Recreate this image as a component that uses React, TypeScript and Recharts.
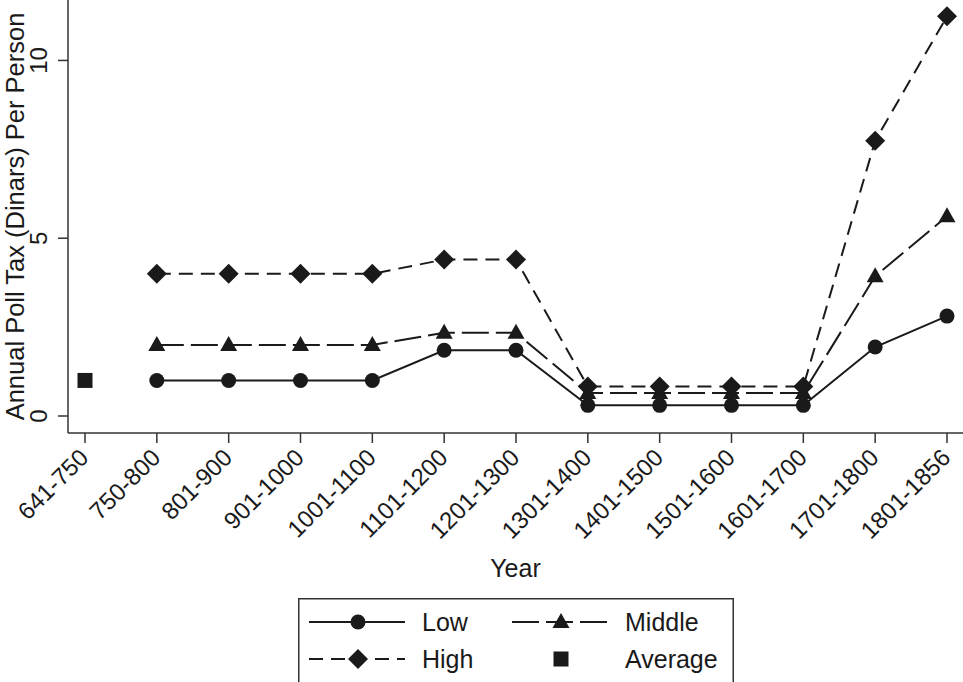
import { LineChart, Line, XAxis, YAxis, Legend, Label } from 'recharts'

const periods = [
  '641-750', '750-800', '801-900', '901-1000', '1001-1100', '1101-1200', '1201-1300',
  '1301-1400', '1401-1500', '1501-1600', '1601-1700', '1701-1800', '1801-1856',
]
const low = [null, 1, 1, 1, 1, 1.85, 1.85, 0.3, 0.3, 0.3, 0.3, 1.94, 2.81]
const middle = [null, 2, 2, 2, 2, 2.34, 2.34, 0.65, 0.65, 0.65, 0.65, 3.93, 5.62]
const high = [null, 4, 4, 4, 4, 4.4, 4.4, 0.83, 0.83, 0.83, 0.83, 7.74, 11.24]
const average = [1, null, null, null, null, null, null, null, null, null, null, null, null]
const yTicks = [0, 5, 10]

const data = periods.map((p, i) => ({
  period: p,
  low: low[i],
  middle: middle[i],
  high: high[i],
  average: average[i],
}))

const INK = '#1a1a1a'
const FONT = '"Liberation Sans", Arial, Helvetica, sans-serif'

type Shape = 'circle' | 'triangle' | 'diamond' | 'square'

function Marker({ shape, cx, cy }: { shape: Shape; cx: number; cy: number }) {
  if (shape === 'circle') return <circle cx={cx} cy={cy} r={7.5} fill={INK} />
  if (shape === 'triangle')
    return <polygon points={`${cx},${cy - 9} ${cx + 8.5},${cy + 6} ${cx - 8.5},${cy + 6}`} fill={INK} />
  if (shape === 'diamond')
    return <polygon points={`${cx},${cy - 10} ${cx + 10},${cy} ${cx},${cy + 10} ${cx - 10},${cy}`} fill={INK} />
  return <rect x={cx - 7.5} y={cy - 7.5} width={15} height={15} fill={INK} />
}

const makeDot = (shape: Shape) => (props: any) => {
  const { cx, cy, index } = props
  if (cx == null || cy == null || props.value == null) return <g key={index} />
  return <Marker key={index} shape={shape} cx={cx} cy={cy} />
}

const series = [
  { key: 'low', name: 'Low', dash: undefined as string | undefined, shape: 'circle' as Shape, line: true },
  { key: 'middle', name: 'Middle', dash: '27 7', shape: 'triangle' as Shape, line: true },
  { key: 'high', name: 'High', dash: '14 8', shape: 'diamond' as Shape, line: true },
  { key: 'average', name: 'Average', dash: undefined, shape: 'square' as Shape, line: false },
]

// legend order: Low, Middle / High, Average
const legendOrder = ['low', 'middle', 'high', 'average']

function XTick({ x, y, payload }: any) {
  return (
    <text
      x={x + 5}
      y={y + 16}
      transform={`rotate(-45, ${x + 5}, ${y + 16})`}
      textAnchor="end"
      fontSize={24}
      fontFamily={FONT}
      fill={INK}
    >
      {payload.value}
    </text>
  )
}

function YTick({ x, y, payload }: any) {
  return (
    <text
      x={x - 11}
      y={y}
      transform={`rotate(-90, ${x - 11}, ${y})`}
      textAnchor="middle"
      fontSize={24}
      fontFamily={FONT}
      fill={INK}
    >
      {payload.value}
    </text>
  )
}

function YTitle({ viewBox }: any) {
  const cx = 24
  const cy = viewBox.y + viewBox.height / 2
  return (
    <text
      x={cx}
      y={cy}
      transform={`rotate(-90, ${cx}, ${cy})`}
      textAnchor="middle"
      fontSize={25.5}
      fontFamily={FONT}
      fill={INK}
    >
      Annual Poll Tax (Dinars) Per Person
    </text>
  )
}

function LegendBox() {
  const items = legendOrder.map(k => series.find(s => s.key === k)!)
  return (
    <svg width={436} height={84} style={{ display: 'block' }}>
      <rect x={0.75} y={0.75} width={434.5} height={90} fill="#fff" stroke="#333" strokeWidth={1.5} />
      {items.map((s, i) => {
        const col = i % 2
        const row = Math.floor(i / 2)
        const x0 = col === 0 ? 11 : 214
        const y0 = row === 0 ? 24 : 61
        return (
          <g key={s.key}>
            {s.line && (
              <line x1={x0} x2={x0 + 96} y1={y0} y2={y0} stroke={INK} strokeWidth={2} strokeDasharray={s.dash} />
            )}
            <Marker shape={s.shape} cx={x0 + 49} cy={y0} />
            <text x={x0 + 113} y={y0 + 9} fontSize={25} fontFamily={FONT} fill={INK}>
              {s.name}
            </text>
          </g>
        )
      })}
    </svg>
  )
}

export default function App() {
  return (
    <div style={{ position: 'absolute', left: 0, top: 0, background: '#fff' }}>
      <LineChart width={963} height={682} data={data} margin={{ top: 0, right: 0, left: 0, bottom: 0 }}>
        <XAxis
          dataKey="period"
          height={249}
          padding={{ left: 17, right: 16 }}
          tick={<XTick />}
          tickSize={10}
          tickMargin={0}
          interval={0}
          stroke="#333"
          strokeWidth={1.5}
        >
          <Label value="Year" position="insideTop" offset={126} fontSize={25} fontFamily={FONT} fill={INK} />
        </XAxis>
        <YAxis
          width={68}
          domain={[0, 11.7]}
          ticks={yTicks}
          padding={{ bottom: 17 }}
          allowDataOverflow
          tick={<YTick />}
          tickSize={10}
          tickMargin={0}
          stroke="#333"
          strokeWidth={1.5}
        >
          <Label content={<YTitle />} />
        </YAxis>
        <Legend
          layout="horizontal"
          verticalAlign="middle"
          align="center"
          content={<LegendBox />}
          wrapperStyle={{ left: 298, top: 598, width: 436, height: 84 }}
        />
        {series.map(s => (
          <Line
            key={s.key}
            dataKey={s.key}
            name={s.name}
            stroke={s.line ? INK : 'none'}
            strokeWidth={2}
            strokeDasharray={s.dash}
            dot={makeDot(s.shape)}
            activeDot={false}
            isAnimationActive={false}
          />
        ))}
      </LineChart>
    </div>
  )
}
